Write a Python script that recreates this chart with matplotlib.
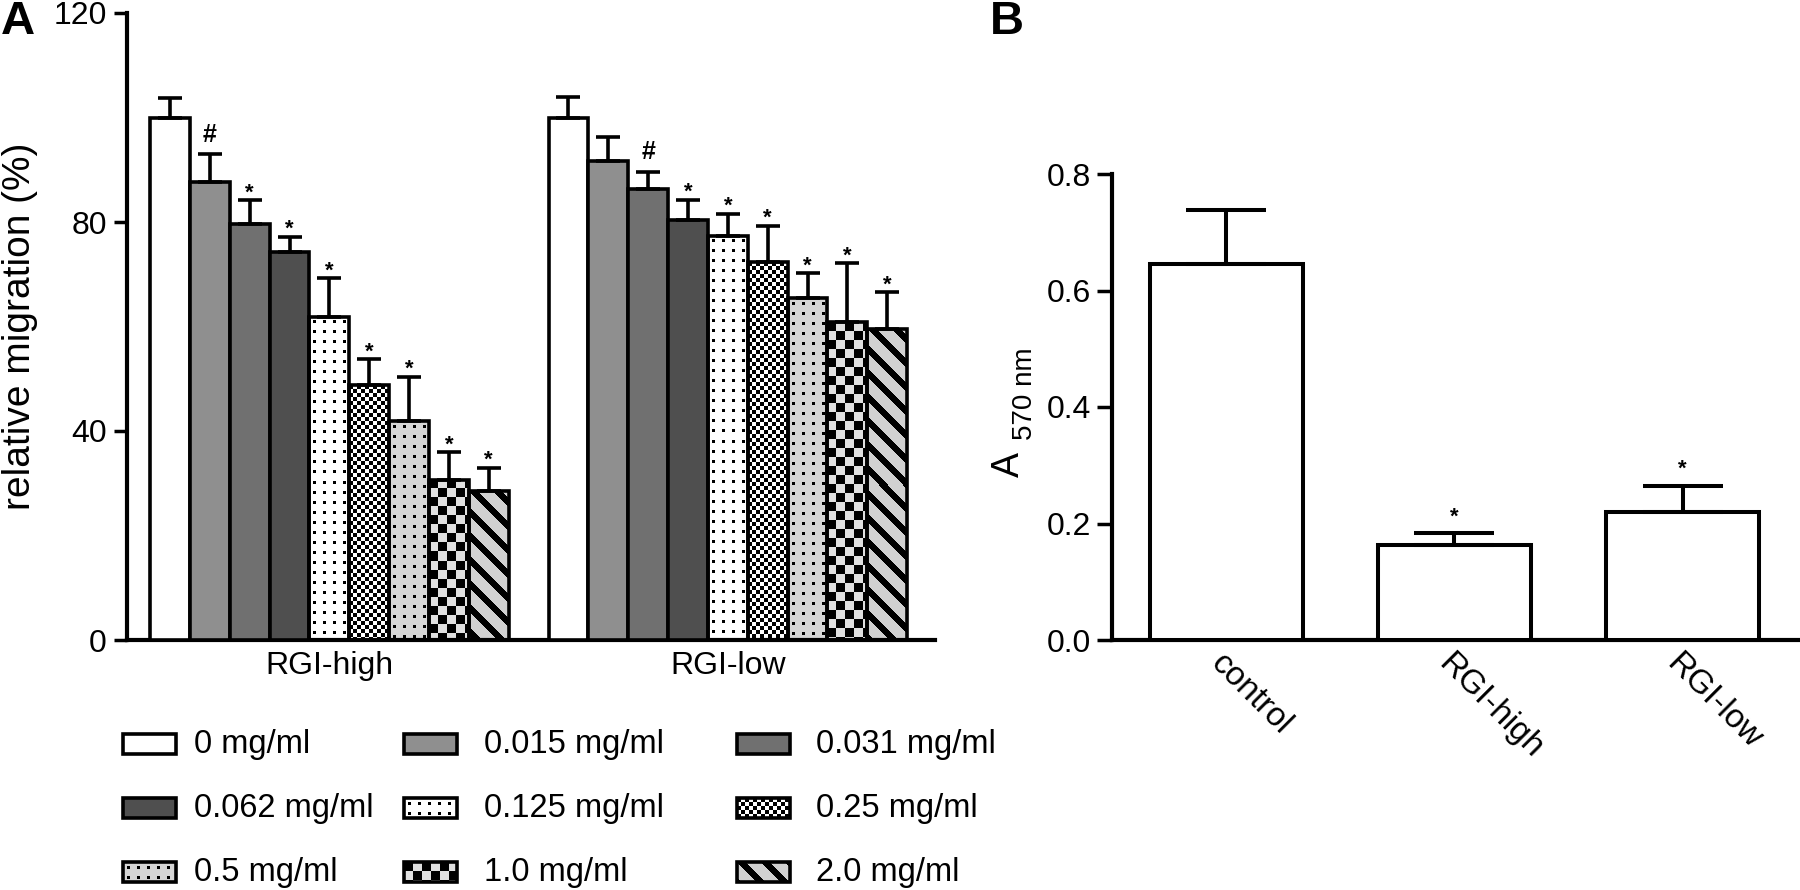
import numpy as np
import matplotlib
matplotlib.use('Agg')
import matplotlib.pyplot as plt
from matplotlib.patches import Rectangle
from matplotlib.ticker import FormatStrFormatter

plt.rcParams['font.family'] = ['Liberation Sans', 'DejaVu Sans']

# ---- data ----
doses = ['0 mg/ml', '0.015 mg/ml', '0.031 mg/ml', '0.062 mg/ml', '0.125 mg/ml',
         '0.25 mg/ml', '0.5 mg/ml', '1.0 mg/ml', '2.0 mg/ml']
groups_a = ['RGI-high', 'RGI-low']
high_mean = [100, 87.6, 79.7, 74.3, 61.9, 48.8, 41.9, 30.7, 28.5]
high_sem = [3.8, 5.4, 4.5, 2.9, 7.3, 4.9, 8.5, 5.2, 4.5]
low_mean = [100, 91.6, 86.4, 80.3, 77.4, 72.3, 65.4, 60.8, 59.6]
low_sem = [3.9, 4.7, 3.2, 4.0, 4.2, 7.0, 4.8, 11.3, 7.0]
high_marks = ['', '#', '*', '*', '*', '*', '*', '*', '*']
low_marks = ['', '', '#', '*', '*', '*', '*', '*', '*']

groups_b = ['control', 'RGI-high', 'RGI-low']
b_mean = [0.645, 0.163, 0.219]
b_sem = [0.093, 0.020, 0.046]
b_marks = ['', '*', '*']

# fill style for each dose
fills = ['white', '#8f8f8f', '#707070', '#4f4f4f',
         'dots', 'fine_check', 'gray_dots', 'coarse_check', 'stripes']


def pattern_img(kind, w, h):
    yy, xx = np.mgrid[0:h, 0:w]
    if kind in ('dots', 'gray_dots'):
        img = np.full((h, w), 1.0 if kind == 'dots' else 0.84)
        dx = xx % 10 - 5
        dy = yy % 10 - 5
        img[dx ** 2 + dy ** 2 <= 2] = 0.0
    elif kind == 'fine_check':
        img = np.where((xx // 4 + yy // 4) % 2 == 0, 0.0, 1.0)
    elif kind == 'coarse_check':
        img = np.where((xx // 9 + yy // 9) % 2 == 0, 0.0, 0.88)
    else:  # stripes
        img = np.where((xx - yy) % 24 < 9, 0.0, 0.82)
    return np.dstack([img] * 3)


def paint(ax, x0, x1, y0, y1, kind, z=2):
    p0 = ax.transData.transform((x0, y0))
    p1 = ax.transData.transform((x1, y1))
    w = max(int(round(p1[0] - p0[0])), 1)
    h = max(int(round(p1[1] - p0[1])), 1)
    ax.imshow(pattern_img(kind, w, h), extent=(x0, x1, y0, y1),
              aspect='auto', interpolation='nearest', zorder=z)


def is_pattern(f):
    return not (f.startswith('#') or f == 'white')


fig = plt.figure(figsize=(18, 8.9), dpi=100)
W, H = 1800, 890

# ---------------- panel A ----------------
ax = fig.add_axes([127 / W, 1 - 640 / H, 808 / W, 627 / H])
ax.set_xlim(-1.08, 19.2)
ax.set_ylim(0, 120)
ax.set_autoscale_on(False)

for g, (means, sems, marks) in enumerate([(high_mean, high_sem, high_marks),
                                          (low_mean, low_sem, low_marks)]):
    xs = np.arange(len(means)) + g * 10
    for x, m, f in zip(xs, means, fills):
        if is_pattern(f):
            paint(ax, x - 0.5, x + 0.5, 0, m, f)
            ax.bar(x, m, width=1, facecolor='none', edgecolor='black',
                   linewidth=2.6, zorder=3)
        else:
            ax.bar(x, m, width=1, facecolor=f, edgecolor='black',
                   linewidth=2.6, zorder=3)
    ax.errorbar(xs, means, yerr=[np.zeros(len(sems)), sems], fmt='none',
                ecolor='black', elinewidth=2.6, capsize=8.3, capthick=2.6,
                zorder=4)
    for x, m, s, mk in zip(xs, means, sems, marks):
        if mk == '#':
            ax.annotate(mk, (x, m + s), xytext=(0, 9), textcoords='offset points',
                        ha='center', va='baseline', fontsize=18, fontweight='bold')
        elif mk:
            ax.annotate(mk, (x, m + s), xytext=(0, 1.2), textcoords='offset points',
                        ha='center', va='baseline', fontsize=16, fontweight='bold')

ax.spines['top'].set_visible(False)
ax.spines['right'].set_visible(False)
ax.spines['left'].set_linewidth(3)
ax.spines['bottom'].set_linewidth(3)
ax.set_yticks([0, 40, 80, 120])
ax.tick_params(axis='y', length=9.5, width=2.5, labelsize=23, pad=5)
ax.set_xticks([4, 14], groups_a)
ax.tick_params(axis='x', length=0, labelsize=23, pad=8)
ax.set_ylabel('relative migration (%)', fontsize=28, labelpad=11)

# ---------------- panel B ----------------
bx = fig.add_axes([1112 / W, 1 - 640 / H, 687 / W, 466 / H])
xb = np.arange(len(groups_b))
bx.bar(xb, b_mean, width=0.67, facecolor='white', edgecolor='black',
       linewidth=2.9, zorder=3)
bx.errorbar(xb, b_mean, yerr=[np.zeros(len(b_sem)), b_sem], fmt='none',
            ecolor='black', elinewidth=2.9, capsize=28.8, capthick=2.9, zorder=4)
for x, m, s, mk in zip(xb, b_mean, b_sem, b_marks):
    if mk:
        bx.annotate(mk, (x, m + s), xytext=(0, 8), textcoords='offset points',
                    ha='center', va='baseline', fontsize=16, fontweight='bold')
bx.set_xlim(-0.5, 2.51)
bx.set_ylim(0, 0.8)
bx.spines['top'].set_visible(False)
bx.spines['right'].set_visible(False)
bx.spines['left'].set_linewidth(3)
bx.spines['bottom'].set_linewidth(3)
bx.set_yticks([0, 0.2, 0.4, 0.6, 0.8])
bx.yaxis.set_major_formatter(FormatStrFormatter('%.1f'))
bx.tick_params(axis='y', length=11, width=2.5, labelsize=23, pad=4)
bx.set_xticks(xb)
bx.set_xticklabels(groups_b, rotation=-45, ha='left', va='top',
                   rotation_mode='anchor', fontsize=24)
bx.tick_params(axis='x', length=0, pad=6)
# y label "A 570 nm" with the wavelength set lower and smaller
fig.text(1027 / W, 1 - 477 / H, 'A', rotation=90, ha='right', va='bottom',
         fontsize=27)
fig.text(1038 / W, 1 - 440 / H, '570 nm', rotation=90, ha='right', va='bottom',
         fontsize=20)

# ---------------- legend ----------------
lax = fig.add_axes([0, 0, 1, 1])
lax.set_xlim(0, W)
lax.set_ylim(0, H)
lax.set_autoscale_on(False)
lax.axis('off')
row_y = [744, 808, 872]
patch_x = [123, 404, 737]
text_x = [194, 484, 816]
pw, ph = 53, 20
for i, (lab, f) in enumerate(zip(doses, fills)):
    r, c = divmod(i, 3)
    x0 = patch_x[c]
    y0 = H - row_y[r] - ph / 2
    if is_pattern(f):
        paint(lax, x0, x0 + pw, y0, y0 + ph, f)
        lax.add_patch(Rectangle((x0, y0), pw, ph, facecolor='none',
                                edgecolor='black', linewidth=2.6, zorder=3))
    else:
        lax.add_patch(Rectangle((x0, y0), pw, ph, facecolor=f,
                                edgecolor='black', linewidth=2.6, zorder=3))
    lax.text(text_x[c], H - row_y[r], lab, fontsize=23.5, va='center', ha='left')

fig.text(1 / W, 1.0, 'A', fontsize=34, fontweight='bold', va='top', ha='left')
fig.text(990 / W, 1.0, 'B', fontsize=34, fontweight='bold', va='top', ha='left')

fig.savefig('out.png', dpi=100)
